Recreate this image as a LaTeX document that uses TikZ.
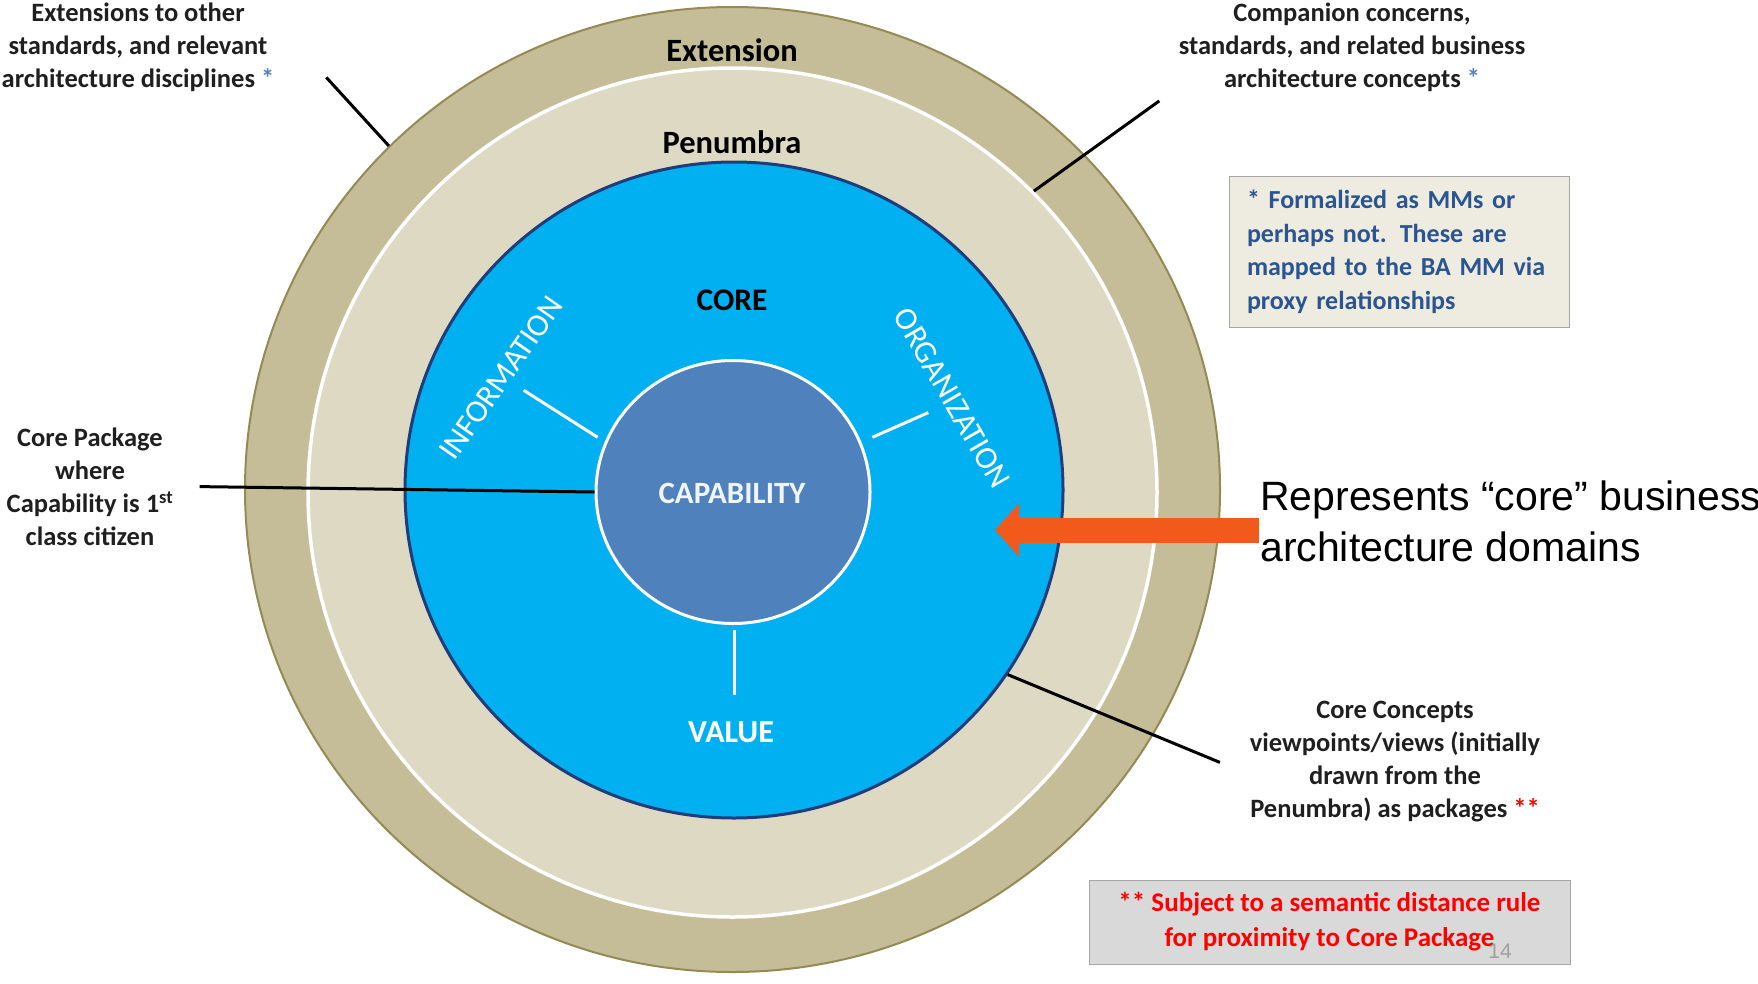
\documentclass[tikz,border=0pt]{standalone}
\usepackage{fontspec}
\setmainfont{Carlito}
\newfontfamily\repfont{Liberation Sans}
\usetikzlibrary{shapes.geometric,arrows.meta}
\definecolor{extc}{HTML}{C4BD97}
\definecolor{extedge}{HTML}{948A54}
\definecolor{penc}{HTML}{DDD9C3}
\definecolor{corec}{HTML}{00B0F0}
\definecolor{coreedge}{HTML}{1F3D7A}
\definecolor{capc}{HTML}{4F81BD}
\definecolor{arrowc}{HTML}{F15A1A}
\definecolor{notefill}{HTML}{EEECE1}
\definecolor{notetext}{HTML}{2A5591}
\definecolor{boxedge}{HTML}{A6A6A6}
\definecolor{rulefill}{HTML}{D9D9D9}
\definecolor{starblue}{HTML}{4F81BD}
\definecolor{pagegray}{HTML}{A0A0A0}
\tikzset{
  ring/.style={ellipse, inner sep=0pt},
  annot/.style={align=center, inner sep=0pt, text=black!88,
    font=\bfseries\fontsize{26.5}{33}\selectfont},
  ringlabel/.style={inner sep=0pt, font=\bfseries\fontsize{32.5}{36}\selectfont},
  domlabel/.style={inner sep=0pt, text=white, font=\fontsize{32}{36}\selectfont},
  leader/.style={draw=black, line width=3pt},
  whitetick/.style={draw=white, line width=3pt},
}
\begin{document}
\begin{tikzpicture}[x=1pt,y=-1pt]
\useasboundingbox (0,0) rectangle (1758,983);
% rings
\node (ext) [ring, fill=extc, draw=extedge, line width=2pt,
  minimum width=975pt, minimum height=965pt] at (732.5,489.5) {};
\node (pen) [ring, fill=penc, draw=white, line width=3.5pt,
  minimum width=849pt, minimum height=849pt] at (732.5,492.5) {};
\node (core) [ring, fill=corec, draw=coreedge, line width=3pt,
  minimum width=658pt, minimum height=656pt] at (734,490) {};
\node (cap) [ring, fill=capc, draw=white, line width=3pt,
  minimum width=274pt, minimum height=263pt] at (733,492) {};
% ring labels
\node (extl) [ringlabel] at (732,50) {Extension};
\node (penl) [ringlabel] at (732,142) {Penumbra};
\node (corel) [ringlabel, font=\bfseries\fontsize{31.5}{36}\selectfont] at (732,300) {CORE};
\node (capl) [ringlabel, text=white!92!capc, font=\bfseries\fontsize{31}{34}\selectfont] at (732,493) {CAPABILITY};
\node (vall) [ringlabel, text=white, font=\bfseries\fontsize{32}{34}\selectfont] at (731,732) {VALUE};
\node (infl) [domlabel, rotate=55] at (501,378) {INFORMATION};
\node (orgl) [domlabel, rotate=-60] at (952,398) {ORGANIZATION};
% white ticks
\draw[whitetick] (523.6,390.2) -- (597.6,437.3);
\draw[whitetick] (872.3,437.3) -- (928.3,412.6);
\draw[whitetick] (734.4,630.1) -- (734.4,695.1);
% annotations
\node (extn) [annot] at (138,47) {Extensions to other\\standards, and relevant\\architecture disciplines \textcolor{starblue}{*}};
\node (comp) [annot] at (1352,47) {Companion concerns,\\standards, and related business\\architecture concepts \textcolor{starblue}{*}};
\node (cpkg) [annot] at (90,487) {Core Package\\where\\Capability is 1\textsuperscript{st}\\class citizen};
\node (ccon) [annot] at (1395,762) {Core Concepts\\viewpoints/views (initially\\drawn from the\\Penumbra) as packages \textcolor{red}{**}};
% leaders
\coordinate (tlA) at (326.3,77.4);
\coordinate (trA) at (1159.3,100.9);
\coordinate (lA) at (199.6,486.6);
\coordinate (brA) at (1219.9,762.4);
\draw[leader] (tlA) -- (ext.135);
\draw[leader] (trA) -- (pen.45);
\draw[leader] (lA) -- (cap.west);
\draw[leader] (brA) -- (core.-34);
% note boxes
\node (note1) [draw=boxedge, fill=notefill, line width=1pt, inner xsep=18pt, inner ysep=0pt,
  text width=304pt, minimum height=151pt, align=left, text=notetext,
  font=\bfseries\fontsize{26}{33.5}\selectfont] at (1399,251.5)
  {* Formalized as MMs or\\perhaps not. These are\\mapped to the BA MM via\\proxy relationships};
\node (note2) [draw=boxedge, fill=rulefill, line width=1pt, inner sep=0pt,
  minimum width=481pt, minimum height=84pt, align=center, text=red,
  font=\bfseries\fontsize{27}{35}\selectfont] at (1329.5,922)
  {** Subject to a semantic distance rule\\for proximity to Core Package};
\node (pnum) [inner sep=0pt, text=pagegray, font=\repfont\fontsize{21}{24}\selectfont] at (1500,951) {14};
% orange arrow and its text
\node (rep) [anchor=west, align=left, inner sep=0pt, text=black,
  font=\repfont\fontsize{41}{51}\selectfont] at (1260,521)
  {Represents “core” business\\architecture domains};
\coordinate (arrT) at (1259,530);
\coordinate (arrH) at (995,530);
\draw[arrowc, line width=25pt, -{Triangle[length=24pt,width=52pt]}] (arrT) -- (arrH);
\end{tikzpicture}
\end{document}
